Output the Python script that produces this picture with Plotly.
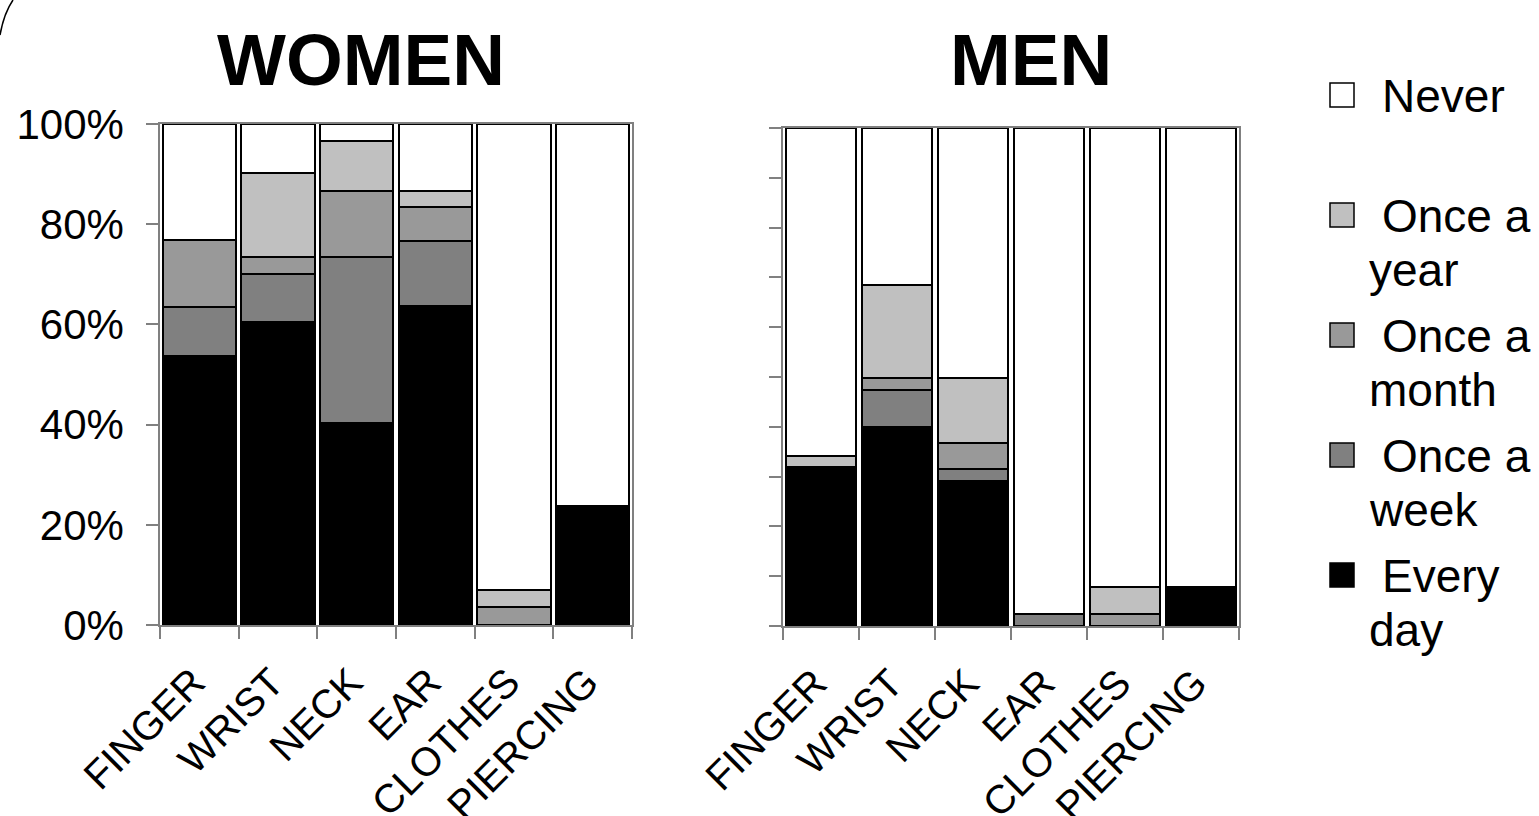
import plotly.graph_objects as go

W, H = 1539, 816

categories = ["FINGER", "WRIST", "NECK", "EAR", "CLOTHES", "PIERCING"]
series_names = ["Every day", "Once a week", "Once a month", "Once a year", "Never"]

women_every_day = [53.6, 60.4, 40.3, 63.6, 0.0, 23.8]
women_week = [9.8, 9.6, 33.1, 13.1, 0.0, 0.0]
women_month = [13.5, 3.4, 13.2, 6.7, 3.5, 0.0]
women_year = [0.0, 16.8, 10.0, 3.2, 3.4, 0.0]
women_never = [23.1, 9.8, 3.4, 13.4, 93.1, 76.2]

men_every_day = [31.9, 39.9, 29.2, 0.0, 0.0, 7.9]
men_week = [0.0, 7.5, 2.3, 2.5, 0.0, 0.0]
men_month = [0.0, 2.5, 5.3, 0.0, 2.5, 0.0]
men_year = [2.2, 18.5, 13.1, 0.0, 5.3, 0.0]
men_never = [65.9, 31.6, 50.1, 97.5, 92.2, 92.1]

women_tick_vals = [0, 20, 40, 60, 80, 100]
women_tick_text = ["0%", "20%", "40%", "60%", "80%", "100%"]
men_tick_vals = [0, 10, 20, 30, 40, 50, 60, 70, 80, 90, 100]

colors = ["#000000", "#808080", "#999999", "#C0C0C0", "#FFFFFF"]
FONT = "Liberation Sans, Arial, sans-serif"


def px(x):
    return x / W


def py(y):
    return 1 - y / H


women = [women_every_day, women_week, women_month, women_year, women_never]
men = [men_every_day, men_week, men_month, men_year, men_never]

fig = go.Figure()
for name, vals, col in zip(series_names, women, colors):
    fig.add_trace(go.Bar(x=categories, y=vals, name=name, marker=dict(color=col, line=dict(color="black", width=2)),
                         xaxis="x", yaxis="y", showlegend=False))
for name, vals, col in zip(series_names, men, colors):
    fig.add_trace(go.Bar(x=categories, y=vals, name=name, marker=dict(color=col, line=dict(color="black", width=2)),
                         xaxis="x2", yaxis="y2", showlegend=False))

axis_common = dict(showline=True, linecolor="#808080", linewidth=1.5, mirror=True, showgrid=False, zeroline=False,
                   ticks="outside", ticklen=12, tickcolor="#808080", tickwidth=1.5, automargin=False)

xcommon = dict(axis_common, type="category", tickson="boundaries", tickangle=-45,
               ticklabelstandoff=16, ticklabelshift=-6,
               tickfont=dict(family=FONT, size=40, color="black"))

fig.update_layout(
    template="none",
    width=W, height=H, autosize=False,
    margin=dict(l=0, r=0, t=0, b=0, pad=0),
    paper_bgcolor="white", plot_bgcolor="white",
    barmode="stack", bargap=0.07,
    font=dict(family=FONT, color="black"),
    xaxis=dict(xcommon, domain=[px(160), px(632)], anchor="y"),
    yaxis=dict(axis_common, domain=[py(625), py(124)], anchor="x", range=[0, 100], tickmode="array",
               tickvals=women_tick_vals, ticktext=women_tick_text,
               tickfont=dict(family=FONT, size=42, color="black"), ticklabelstandoff=14),
    xaxis2=dict(xcommon, domain=[px(783), px(1239)], anchor="y2"),
    yaxis2=dict(axis_common, domain=[py(626), py(128)], anchor="x2", range=[0, 100], tickmode="array",
                tickvals=men_tick_vals, showticklabels=False),
)

annotations = [
    dict(text="<b>WOMEN</b>", x=px(361), y=py(60), xref="paper", yref="paper", xanchor="center", yanchor="middle",
         showarrow=False, font=dict(family=FONT, size=73, color="black")),
    dict(text="<b>MEN</b>", x=px(1031), y=py(60), xref="paper", yref="paper", xanchor="center", yanchor="middle",
         showarrow=False, font=dict(family=FONT, size=73, color="black")),
]

legend_items = [
    ("Never", None, "#FFFFFF"),
    ("Once a", "year", "#C0C0C0"),
    ("Once a", "month", "#999999"),
    ("Once a", "week", "#808080"),
    ("Every", "day", "#000000"),
]
shapes = []
for i, (l1, l2, col) in enumerate(legend_items):
    cy = 95 + 120 * i
    shapes.append(dict(type="rect", xref="paper", yref="paper", x0=px(1330), x1=px(1354), y0=py(cy - 12),
                       y1=py(cy + 12), fillcolor=col, line=dict(color="black", width=1.5)))
    annotations.append(dict(text=l1, x=px(1380), y=py(cy + 1), xref="paper", yref="paper", xanchor="left",
                            yanchor="middle", showarrow=False, font=dict(family=FONT, size=46, color="black")))
    if l2:
        annotations.append(dict(text=l2, x=px(1367), y=py(cy + 55), xref="paper", yref="paper", xanchor="left",
                                yanchor="middle", showarrow=False, font=dict(family=FONT, size=46, color="black")))

shapes.append(dict(type="path", xref="paper", yref="paper",
                   path=f"M {px(0)},{py(35)} Q {px(4)},{py(13)} {px(13)},{py(0)}",
                   line=dict(color="black", width=1.5)))

fig.update_layout(annotations=annotations, shapes=shapes)
fig.write_html("out.html", config={"displayModeBar": False},
               post_script="document.body.style.margin='0';document.body.style.overflow='hidden';")
